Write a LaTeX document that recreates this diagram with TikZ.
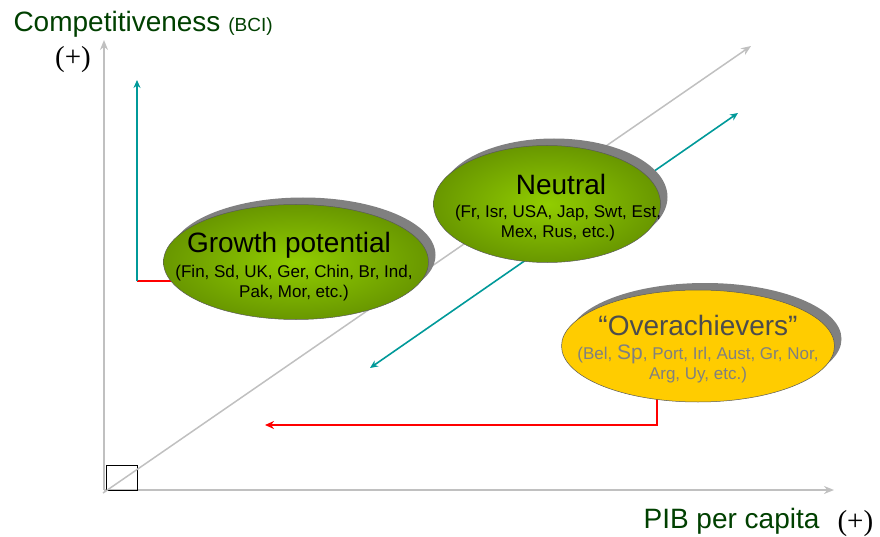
\documentclass[tikz,border=0pt]{standalone}
\usepackage{fontspec}
\setmainfont{Liberation Serif}
\setsansfont{Liberation Sans}
\usepackage{tikz}
\usetikzlibrary{shapes,arrows,positioning,calc,shadows,arrows.meta}

\definecolor{axisgray}{RGB}{192,192,192}
\definecolor{labelgreen}{RGB}{0,64,0}
\definecolor{tealline}{RGB}{0,153,153}
\definecolor{gold}{RGB}{255,204,0}
\definecolor{leafin}{RGB}{145,205,0}
\definecolor{leafmid}{RGB}{100,145,0}
\definecolor{leafout}{RGB}{58,80,0}
\definecolor{shadowgray}{RGB}{128,128,128}
\pgfdeclareradialshading{leafshade}{\pgfpoint{0bp}{0bp}}{color(0bp)=(leafin); color(28bp)=(leafmid); color(50bp)=(leafout)}

\tikzset{
  axisline/.style={draw=axisgray, line width=2pt, -{Stealth[length=10pt,width=8pt]}},
  tealarrow/.style={draw=tealline, line width=1.6pt, -{Stealth[length=8pt,width=7pt]}},
  redline/.style={draw=red, line width=2pt},
  blob/.style={ellipse, draw=shadowgray!70!black, line width=0.5pt, inner sep=0pt,
    drop shadow={shadow xshift=7pt, shadow yshift=7pt, fill=shadowgray, opacity=1}},
  greenblob/.style={blob, shading=leafshade},
  goldblob/.style={blob, fill=gold},
  titletext/.style={font=\sffamily\fontsize{28}{32}\selectfont},
  listtext/.style={font=\sffamily\fontsize{17}{20.5}\selectfont, align=center},
  axislabel/.style={text=labelgreen, font=\sffamily\fontsize{28}{32}\selectfont},
  plus/.style={font=\fontsize{29}{32}\selectfont}
}

\begin{document}
\begin{tikzpicture}[x=1pt, y=-1pt]
        \useasboundingbox (0,0) rectangle (880,537);

        % Axes
        \coordinate (origin) at (104,490);
        \coordinate (ytip) at (104,40);
        \coordinate (xtip) at (834,490);
        \draw[axisline] (origin) -- (ytip);
        \draw[axisline] (origin) -- (xtip);
        \draw[black, line width=0.8pt] (106,465) rectangle (137,490);

        % Diagonal
        \coordinate (diaglow) at (103,493);
        \coordinate (diaghigh) at (751,46);
        \draw[axisline, line width=1.5pt] (diaglow) -- (diaghigh);

        \node[axislabel, anchor=base west] (ylabel) at (10,32) {Competitiveness {\fontsize{19}{22}\selectfont (BCI)}};
        \node[plus] (yplus) at (73,60) {(+)};
        \node[axislabel, anchor=base east] (xlabel) at (823,528) {PIB per capita};
        \node[plus, anchor=base west] (xplus) at (834,530) {(+)};

        % Movements
        \coordinate (tealbase) at (137,281);
        \coordinate (tealtop) at (137,80);
        \coordinate (gpedge) at (180,281);
        \draw[redline] (tealbase) -- (gpedge);
        \draw[tealarrow] (tealbase) -- (tealtop);

        \coordinate (tealsw) at (370,368);
        \coordinate (tealne) at (738,113);
        \draw[tealarrow, {Stealth[length=8pt,width=7pt]}-{Stealth[length=8pt,width=7pt]}] (tealsw) -- (tealne);

        \coordinate (overfoot) at (657,396);
        \coordinate (redtip) at (265,425);
        \draw[redline, -{Stealth[length=9pt,width=8pt]}] (overfoot) -- (overfoot |- redtip) -- (redtip);

        % Growth potential
        \node[greenblob, minimum width=265pt, minimum height=115pt] (growth) at (296,262) {};
        \node[titletext, anchor=base] (growthtitle) at (289,253) {Growth potential};
        \node[listtext] (growthlist) at (294,283) {(Fin, Sd, UK, Ger, Chin, Br, Ind,\\ Pak, Mor, etc.)};

        % Neutral
        \node[greenblob, minimum width=227pt, minimum height=117pt] (neutral) at (547,204) {};
        \node[titletext, anchor=base] (neutraltitle) at (561,195) {Neutral};
        \node[listtext] (neutrallist) at (558,223) {(Fr, Isr, USA, Jap, Swt, Est,\\ Mex, Rus, etc.)};

        % Overachievers
        \node[goldblob, minimum width=273pt, minimum height=112pt] (over) at (698,346) {};
        \node[titletext, anchor=base, text=black!70] (overtitle) at (698,335) {``Overachievers''};
        \node[listtext, text=black!50] (overlist) at (698,364) {(Bel, {\fontsize{21}{21}\selectfont Sp}, Port, Irl, Aust, Gr, Nor,\\ Arg, Uy, etc.)};
    \end{tikzpicture}
\end{document}
